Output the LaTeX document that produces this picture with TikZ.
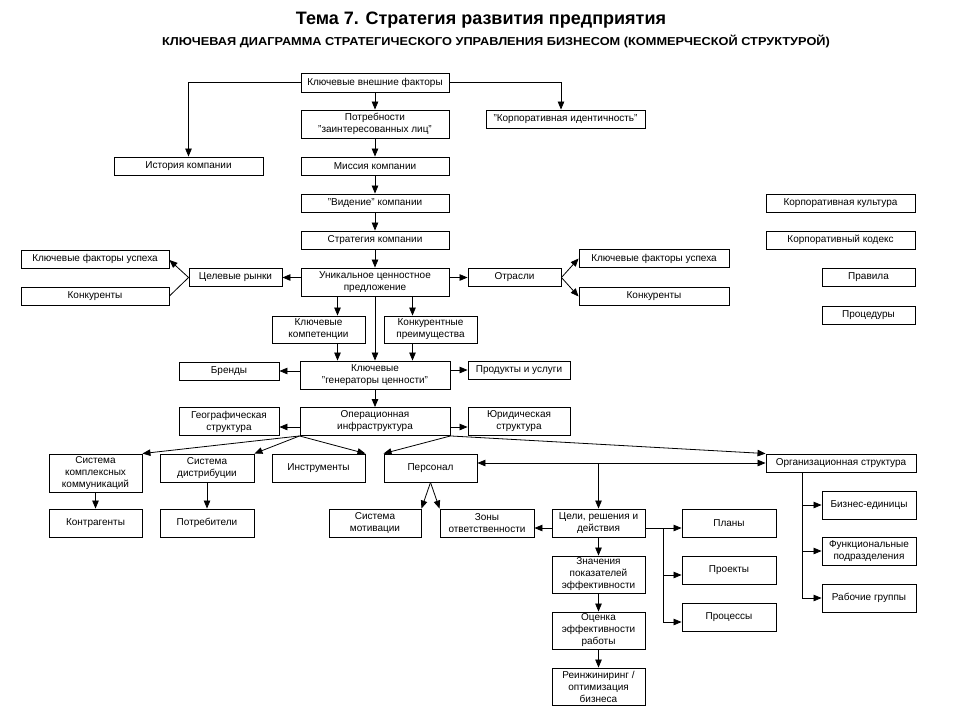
\documentclass[tikz,border=0pt]{standalone}
\usepackage{fontspec}
\setmainfont{Liberation Sans}
\newfontfamily\subfont{Liberation Sans}[FakeStretch=1.11]
\usetikzlibrary{arrows.meta,calc}

\begin{document}
\begin{tikzpicture}[x=1pt,y=-1pt,
  box/.style 2 args={draw, line width=0.9pt, minimum width=#1pt, minimum height=#2pt,
    inner sep=1pt, align=center, font=\fontsize{10}{12}\selectfont},
  arr/.style={line width=0.8pt, -{Triangle[length=8pt,width=6.5pt]}},
  darr/.style={line width=0.8pt, {Triangle[length=8pt,width=6.5pt]}-{Triangle[length=8pt,width=6.5pt]}},
  lin/.style={line width=0.8pt}]
\useasboundingbox (0,0) rectangle (960,720);

\node[font=\bfseries\fontsize{18}{20}\selectfont] (title) at (481,20.5) {Тема 7. Стратегия развития предприятия};
\node[font=\subfont\bfseries\fontsize{11.5}{13}\selectfont] (subtitle) at (496,41) {КЛЮЧЕВАЯ ДИАГРАММА СТРАТЕГИЧЕСКОГО УПРАВЛЕНИЯ БИЗНЕСОМ (КОММЕРЧЕСКОЙ СТРУКТУРОЙ)};

\node[box={148}{19}] (kvf) at (375,82.5) {Ключевые внешние факторы};
\node[box={148}{28}] (potr) at (375,124) {Потребности\\"заинтересованных лиц"};
\node[box={149}{18}] (ist) at (188.5,166) {История компании};
\node[box={148}{18}] (miss) at (375,166) {Миссия компании};
\node[box={148}{18}] (vid) at (375,203) {"Видение" компании};
\node[box={148}{18}] (strat) at (375,240) {Стратегия компании};
\node[box={148}{28}] (uniq) at (375,282) {Уникальное ценностное\\предложение};
\node[box={159}{18}] (kid) at (565.5,119) {"Корпоративная идентичность"};

\node[box={149}{18}] (kult) at (840.5,203) {Корпоративная культура};
\node[box={149}{18}] (kod) at (840.5,240) {Корпоративный кодекс};
\node[box={93}{18}] (prav) at (868.5,277) {Правила};
\node[box={93}{18}] (proc) at (868.5,315) {Процедуры};

\node[box={93}{18}] (celr) at (235.5,277.5) {Целевые рынки};
\node[box={148}{18}] (kfsL) at (95,259) {Ключевые факторы успеха};
\node[box={148}{18}] (konL) at (95,296) {Конкуренты};
\node[box={93}{18}] (otr) at (514.5,277.5) {Отрасли};
\node[box={150}{18}] (kfsR) at (654,258.5) {Ключевые факторы успеха};
\node[box={150}{18}] (konR) at (654,296.5) {Конкуренты};

\node[box={93}{27}] (komp) at (318.5,329.5) {Ключевые\\компетенции};
\node[box={93}{27}] (kpre) at (430.5,329.5) {Конкурентные\\преимущества};
\node[box={150}{28}] (gen) at (375,375) {Ключевые\\"генераторы ценности"};
\node[box={100}{18}] (brend) at (229,371) {Бренды};
\node[box={102}{18}] (prod) at (519,370) {Продукты и услуги};

\node[box={150}{28}] (oper) at (375,421.5) {Операционная\\инфраструктура};
\node[box={100}{28}] (geo) at (229,421.5) {Географическая\\структура};
\node[box={102}{28}] (yur) at (519,421.5) {Юридическая\\структура};

\node[box={93}{38}] (skk) at (95.5,473) {Система\\комплексных\\коммуникаций};
\node[box={94}{28}] (sdis) at (207,468) {Система\\дистрибуции};
\node[box={93}{28}] (instr) at (318.5,468) {Инструменты};
\node[box={93}{28}] (pers) at (430.5,468) {Персонал};
\node[box={150}{18}] (org) at (841,463) {Организационная структура};

\node[box={93}{28}] (kontr) at (95.5,523) {Контрагенты};
\node[box={94}{28}] (potreb) at (207,523) {Потребители};
\node[box={92}{28}] (smot) at (375,523) {Система\\мотивации};
\node[box={94}{28}] (zony) at (487,523) {Зоны\\ответственности};
\node[box={93}{28}] (celi) at (598.5,523) {Цели, решения и\\действия};
\node[box={94}{28}] (plany) at (729,523) {Планы};
\node[box={94}{28}] (proek) at (729,570) {Проекты};
\node[box={94}{28}] (procs) at (729,617) {Процессы};
\node[box={93}{37}] (znach) at (598.5,574.5) {Значения\\показателей\\эффективности};
\node[box={93}{37}] (ocen) at (598.5,630.5) {Оценка\\эффективности\\работы};
\node[box={93}{37}] (rein) at (598.5,686.5) {Реинжиниринг /\\оптимизация\\бизнеса};
\node[box={94}{28}] (bizn) at (869,505) {Бизнес-единицы};
\node[box={94}{28}] (funk) at (869,551) {Функциональные\\подразделения};
\node[box={94}{28}] (rab) at (869,598) {Рабочие группы};

\draw[arr] (kvf.west) -| (ist.north);
\draw[arr] (kvf.east) -| ([xshift=-4.5pt]kid.north);
\draw[arr] (kvf) -- (potr);
\draw[arr] (potr) -- (miss);
\draw[arr] (miss) -- (vid);
\draw[arr] (vid) -- (strat);
\draw[arr] (strat) -- (uniq);
\draw[arr] ([yshift=4.5pt]uniq.west) -- (celr.east);
\draw[arr] ([yshift=4.5pt]uniq.east) -- (otr.west);
\draw[arr] (celr.west) -- ([yshift=-1pt]kfsL.east);
\draw[lin] (celr.west) -- (konL.east);
\draw[arr] (otr.east) -- (kfsR.west);
\draw[arr] (otr.east) -- (konR.west);

\draw[arr] ([xshift=-37.5pt]uniq.south) -- ([xshift=-37.5pt]uniq.south |- komp.north);
\draw[arr] ([xshift=37.5pt]uniq.south) -- ([xshift=37.5pt]uniq.south |- kpre.north);
\draw[arr] (uniq) -- (gen);
\draw[arr] ([xshift=-37.5pt]gen.north |- komp.south) -- ([xshift=-37.5pt]gen.north);
\draw[arr] ([xshift=37.5pt]gen.north |- kpre.south) -- ([xshift=37.5pt]gen.north);
\draw[arr] (gen.west |- brend.east) -- (brend.east);
\draw[arr] (gen.east |- prod.west) -- (prod.west);
\draw[arr] (gen) -- (oper);
\draw[arr] ([yshift=-5.5pt]oper.west) -- ([yshift=-5.5pt]geo.east);
\draw[arr] ([yshift=-5.5pt]oper.east) -- ([yshift=-5.5pt]yur.west);

\draw[arr] (oper.south west) -- (skk.north east);
\draw[arr] (oper.south west) -- (sdis.north east);
\draw[arr] (oper.south west) -- (instr.north east);
\draw[arr] (oper.south east) -- (pers.north west);
\draw[arr] (oper.south east) -- (org.north west);
\draw[arr] (skk) -- (kontr);
\draw[arr] (sdis) -- (potreb);

\draw[darr] (pers.east |- org.west) -- (org.west);
\draw[arr] (celi.north |- org.west) -- (celi.north);
\draw[arr] (pers.south) -- (smot.north east);
\draw[arr] (pers.south) -- (zony.north west);
\draw[arr] ([yshift=-5pt]celi.west) -- ([yshift=-5pt]zony.east);
\draw[arr] (celi) -- (znach);
\draw[arr] (znach) -- (ocen);
\draw[arr] (ocen) -- (rein);

\coordinate (cj) at ([yshift=-5pt]$(celi.east)!.5!(plany.west)$);
\draw[arr] ([yshift=-5pt]celi.east) -- ([yshift=-5pt]plany.west);
\draw[arr] (cj) |- ([yshift=-5pt]proek.west);
\draw[arr] (cj) |- ([yshift=-5pt]procs.west);

\coordinate (oj) at ([xshift=37pt]org.south west);
\draw[arr] (oj) |- (bizn.west);
\draw[arr] (oj) |- (funk.west);
\draw[arr] (oj) |- (rab.west);
\end{tikzpicture}
\end{document}
